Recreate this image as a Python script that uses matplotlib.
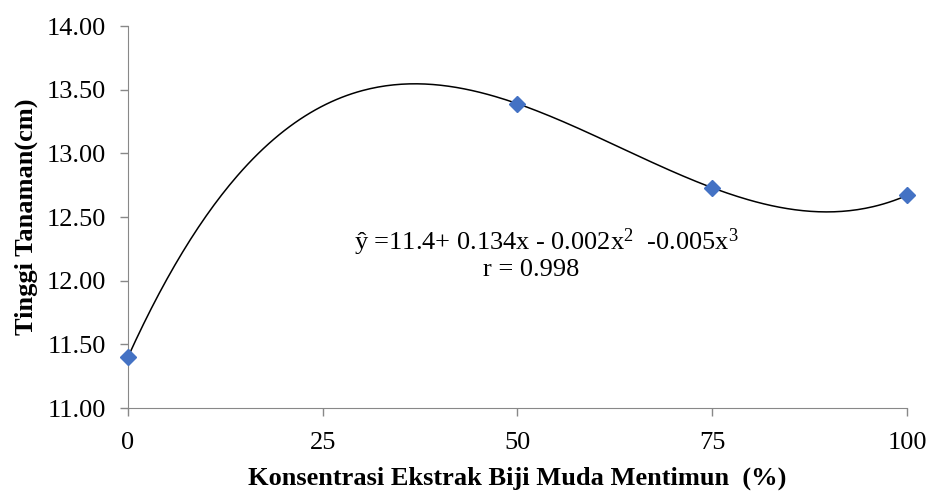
import numpy as np
import matplotlib.pyplot as plt

# data
konsentrasi = [0, 50, 75, 100]
tinggi = [11.40, 13.39, 12.73, 12.67]
x_ticks = [0, 25, 50, 75, 100]
y_ticks = [11.0, 11.5, 12.0, 12.5, 13.0, 13.5, 14.0]

plt.rcParams['font.family'] = ['Liberation Serif', 'DejaVu Serif']
plt.rcParams['mathtext.fontset'] = 'custom'
plt.rcParams['mathtext.rm'] = 'Liberation Serif'

fig = plt.figure(figsize=(9.3, 4.93), dpi=100)
ax = fig.add_axes([0.1376, 0.1724, 0.8377, 0.7748])

# cubic trendline (as in the spreadsheet)
coef = np.polyfit(konsentrasi, tinggi, 3)
xs = np.linspace(0, 100, 300)
ax.plot(xs, np.polyval(coef, xs), color='black', lw=1.1, zorder=2)
ax.plot(konsentrasi, tinggi, 'D', color='#4472C4', ms=8, zorder=3, clip_on=False)

ax.set_xlim(0, 100)
ax.set_ylim(11, 14)
ax.set_xticks(x_ticks)
ax.set_yticks(y_ticks)
ax.set_yticklabels([f'{v:.2f}' for v in y_ticks])
ax.tick_params(axis='both', labelsize=19, color='#888888', length=6, width=1)
ax.tick_params(axis='x', pad=11)
ax.tick_params(axis='y', pad=10)
for s in ['top', 'right']:
    ax.spines[s].set_visible(False)
for s in ['left', 'bottom']:
    ax.spines[s].set_color('#888888')

ax.set_xlabel('Konsentrasi Ekstrak Biji Muda Mentimun  (%)', fontsize=19, fontweight='bold', labelpad=9)
ax.set_ylabel('Tinggi Tanaman(cm)', fontsize=19, fontweight='bold', labelpad=6)

ax.text(53.7, 12.30, r'ŷ =11.4+ 0.134x - 0.002x$\mathregular{^2}$  -0.005x$\mathregular{^3}$',
        fontsize=19, ha='center', va='center')
ax.text(51.8, 12.08, 'r = 0.998', fontsize=19, ha='center', va='center')

fig.savefig('out.png', dpi=100)
